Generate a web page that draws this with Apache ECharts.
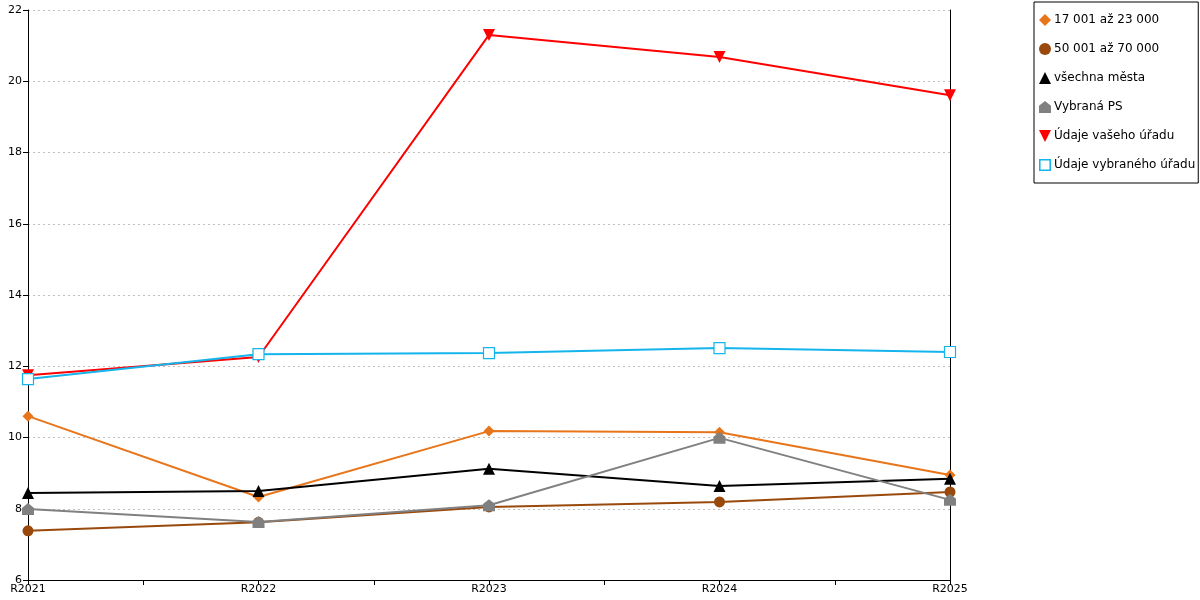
<!DOCTYPE html>
<html lang="cs">
<head>
    <meta charset="UTF-8">
    <title>Chart</title>
    <style>
        html, body { margin: 0; padding: 0; background: #fff; }
        #main { width: 1200px; height: 600px; }
    </style>
</head>
<body>
<div id="main"></div>
<script src="https://cdn.jsdelivr.net/npm/echarts@6/dist/echarts.min.js"></script>
<script>
    // data
    var categories = ['R2021', 'R2022', 'R2023', 'R2024', 'R2025'];
    var seriesNames = ['17 001 až 23 000', '50 001 až 70 000', 'všechna města', 'Vybraná PS', 'Údaje vašeho úřadu', 'Údaje vybraného úřadu'];
    var v17001 = [10.60, 8.33, 10.18, 10.15, 8.95];
    var v50001 = [7.38, 7.62, 8.05, 8.19, 8.47];
    var vAll = [8.44, 8.50, 9.12, 8.64, 8.84];
    var vPS = [7.99, 7.63, 8.10, 9.99, 8.25];
    var vOur = [11.75, 12.26, 21.30, 20.68, 19.61];
    var vSel = [11.64, 12.34, 12.37, 12.51, 12.40];
    var yTicks = [6, 8, 10, 12, 14, 16, 18, 20, 22];

    var houseIcon = 'path://M0,4 L5,0 L10,4 L10,10 L0,10 Z';
    var hollowSquare = 'path://M0,0 L10,0 L10,10 L0,10 Z M1.3,1.3 L1.3,8.7 L8.7,8.7 L8.7,1.3 Z';
    var styles = [
        {color: '#e8751a', symbol: 'diamond', size: 11},
        {color: '#99490c', symbol: 'circle', size: 11},
        {color: '#000000', symbol: 'triangle', size: 12},
        {color: '#808080', symbol: houseIcon, size: 12},
        {color: '#ff0000', symbol: 'path://M0,0 L10,0 L5,10 Z', size: 12},
        {color: '#14b4ec', symbol: 'rect', size: 11, hollow: true}
    ];
    var values = [v17001, v50001, vAll, vPS, vOur, vSel];

    function makeSeries(i) {
        var s = styles[i];
        return {
            name: seriesNames[i],
            type: 'line',
            data: values[i],
            symbol: s.symbol,
            symbolSize: s.size,
            showAllSymbol: true,
            lineStyle: {color: s.color, width: 2},
            itemStyle: s.hollow ? {color: '#ffffff', borderColor: s.color, borderWidth: 1.2} : {color: s.color, borderWidth: 0},
            emphasis: {disabled: true},
            animation: false,
            z: 2 + i
        };
    }

    var series = [];
    for (var i = 0; i < seriesNames.length; i++) {
        series.push(makeSeries(i));
    }

    var legendData = [];
    for (var j = 0; j < seriesNames.length; j++) {
        legendData.push({name: seriesNames[j], icon: styles[j].hollow ? hollowSquare : styles[j].symbol,
            itemStyle: {color: styles[j].color, borderWidth: 0}});
    }

    var option = {
        backgroundColor: '#fff',
        textStyle: {fontFamily: 'DejaVu Sans'},
        animation: false,
        legend: {
            orient: 'vertical',
            left: 1034,
            top: 2,
            padding: [12, 3, 12, 5],
            itemGap: 17,
            itemWidth: 12,
            itemHeight: 12,
            borderColor: '#000',
            borderWidth: 1,
            borderRadius: 0,
            selectedMode: false,
            textStyle: {fontFamily: 'DejaVu Sans', fontSize: 12, color: '#000', padding: [0, 0, 0, -2]},
            data: legendData
        },
        grid: {left: 28, right: 250, top: 10, bottom: 20, containLabel: false},
        xAxis: [{
            type: 'category',
            data: categories,
            boundaryGap: false,
            axisLine: {lineStyle: {color: '#000', width: 1}},
            axisTick: {show: true, length: 5, lineStyle: {color: '#000'}},
            axisLabel: {color: '#000', fontSize: 11, fontFamily: 'DejaVu Sans', margin: 4},
            splitLine: {show: false}
        }, {
            // minor ticks halfway between categories
            type: 'category',
            data: ['a', 'b', 'c', 'd', 'e', 'f', 'g', 'h', 'i'],
            boundaryGap: false,
            position: 'bottom',
            axisLine: {show: false},
            axisTick: {show: true, length: 5, interval: 0, lineStyle: {color: '#000'}},
            axisLabel: {show: false},
            splitLine: {show: false}
        }],
        yAxis: [{
            type: 'value',
            min: yTicks[0],
            max: yTicks[yTicks.length - 1],
            interval: 2,
            axisLine: {show: true, lineStyle: {color: '#000', width: 1}},
            axisTick: {show: true, length: 5, lineStyle: {color: '#000'}},
            axisLabel: {color: '#000', fontSize: 11, fontFamily: 'DejaVu Sans', margin: 6},
            splitLine: {show: true, lineStyle: {color: '#c0c0c0', type: [2, 3], width: 1}}
        }, {
            type: 'value',
            position: 'right',
            min: yTicks[0],
            max: yTicks[yTicks.length - 1],
            interval: 2,
            axisLine: {show: true, lineStyle: {color: '#000', width: 1}},
            axisTick: {show: false},
            axisLabel: {show: false},
            splitLine: {show: false}
        }],
        series: series
    };

    var chart = echarts.init(document.getElementById('main'), null, {renderer: 'canvas'});
    chart.setOption(option);
</script>
</body>
</html>
